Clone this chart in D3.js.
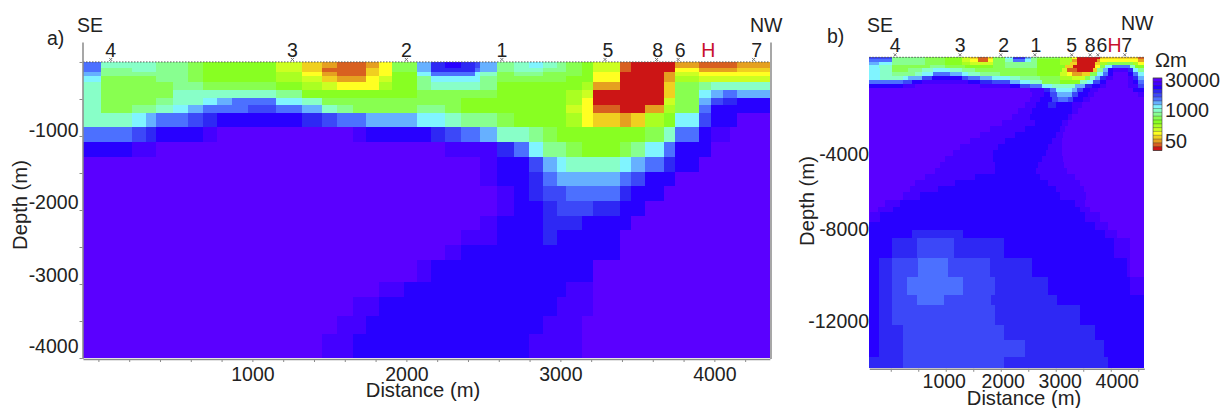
<!DOCTYPE html>
<html>
<head>
<meta charset="utf-8">
<script src="https://cdn.jsdelivr.net/npm/d3@7"></script>
<style>
  html, body { margin: 0; background: #fff; }
  svg { display: block; }
  text { font-family: "Liberation Sans", Arial, sans-serif; fill: #222; }
  .axis path, .axis line { stroke: #8a8a8a; }
</style>
</head>
<body>
<div id="vis"></div>
<script>
// resistivity classes, most resistive first (30000 ohm m down to under 50)
const levelColors = ["#5a00ff", "#4400ff", "#2800ff", "#2e28f4", "#3c48f8", "#4c70ff", "#66b0ff", "#80f4ff",
  "#88ffc8", "#88ff90", "#88ff50", "#88ff22", "#aaff22", "#ccff22", "#ffff22", "#f0d020", "#e5a020", "#d86020", "#cc1515"];
const legendLabels = ["30000", "1000", "50"];
const legendLevels = [0, 8, 16];

const wellNames = ["4", "3", "2", "1", "5", "8", "6", "H", "7"];
const wellDistance = [80, 1260, 2000, 2620, 3290, 3625, 3765, 3960, 4255];

const distanceTicksA = d3.range(0, 4400, 200);
const depthTicksA = d3.range(0, -4001, -500);
const distanceTicksB = d3.range(0, 4501, 500);
const depthTicksB = [-4000, -8000, -12000];

// bottom of each model layer (m)
const depthEdgesA = [0, -80, -135, -190, -270, -380, -485, -580, -690, -880, -1080, -1285, -1485, -1675, -1880,
  -2080, -2270, -2475, -2675, -2975, -3175, -3430, -3675, -4005];
// one list per layer, each entry is [distance where the run ends, class]
const layersA = [
  [[15,5],[377,8],[580,9],[677,10],[1151,11],[1320,13],[1450,15],[1547,16],[1735,17],[1820,16],[1904,14],[2067,10],[2162,6],[2249,3],[2353,2],[2443,3],[2476,4],[2586,6],[2697,9],[2794,8],[2885,7],[2976,8],[3034,9],[3138,10],[3210,11],[3385,13],[3457,17],[3742,18],[3898,16],[4145,17],[4360,16]],
  [[15,5],[216,9],[377,8],[580,9],[677,10],[1151,11],[1320,13],[1450,15],[1735,17],[1820,15],[1904,14],[2067,10],[2162,6],[2443,3],[2476,5],[2586,6],[2697,9],[2885,8],[3034,9],[3138,10],[3210,11],[3385,13],[3457,17],[3742,18],[3898,14],[4145,16],[4360,15]],
  [[15,6],[580,9],[677,10],[1151,11],[1320,12],[1450,14],[1547,16],[1735,17],[1820,15],[1904,14],[2067,11],[2162,7],[2249,5],[2443,5],[2476,7],[2586,8],[2697,10],[2885,9],[3138,10],[3210,11],[3385,14],[3670,18],[3742,16],[3898,13],[4360,14]],
  [[15,7],[377,10],[580,9],[677,10],[1151,11],[1320,12],[1450,13],[1547,15],[1735,16],[1820,14],[1904,13],[2067,11],[2162,9],[2476,7],[2586,9],[3034,10],[3210,11],[3385,14],[3670,18],[3742,16],[3898,12],[4360,13]],
  [[15,8],[482,10],[677,9],[1151,10],[1320,11],[1450,12],[1547,13],[1820,14],[1904,12],[2067,11],[2162,9],[2476,8],[2586,9],[3138,11],[3210,12],[3385,16],[3670,18],[3742,15],[3898,10],[3976,9],[4360,8]],
  [[15,8],[482,10],[1151,8],[1320,9],[1450,11],[2067,11],[2586,10],[3034,11],[3138,12],[3210,13],[3670,18],[3742,15],[3898,10],[3976,7],[4054,6],[4145,5],[4360,6]],
  [[15,8],[377,10],[482,9],[677,8],[768,7],[866,6],[1151,5],[1320,7],[1450,8],[2353,10],[3034,11],[3138,12],[3210,14],[3670,18],[3742,13],[3898,10],[3976,6],[4054,4],[4145,3],[4360,2]],
  [[15,8],[216,10],[377,9],[482,8],[580,7],[677,6],[969,5],[1151,4],[1320,5],[1450,6],[1547,8],[1651,9],[2067,10],[2249,9],[2353,10],[3034,11],[3138,13],[3210,14],[3385,17],[3547,18],[3670,16],[3742,12],[3898,10],[3976,5],[4360,2]],
  [[216,8],[307,7],[377,6],[580,5],[677,4],[768,3],[1320,2],[1450,3],[1547,4],[1735,5],[2067,6],[2249,7],[2353,8],[2586,9],[2697,10],[3034,11],[3138,12],[3210,14],[3385,15],[3457,16],[3547,15],[3670,12],[3742,11],[3898,7],[3976,4],[4145,2],[4360,0]],
  [[216,5],[307,4],[377,3],[677,2],[768,1],[1651,0],[1735,1],[2162,2],[2249,3],[2353,4],[2476,5],[2586,6],[2794,8],[2885,9],[2976,10],[3547,11],[3670,10],[3742,8],[3898,5],[3976,2],[4100,1],[4360,0]],
  [[216,2],[377,1],[2249,0],[2586,1],[2697,3],[2794,5],[2885,7],[3034,9],[3138,10],[3385,11],[3457,10],[3547,9],[3670,7],[3742,5],[3976,2],[4360,0]],
  [[2476,0],[2586,1],[2794,2],[2885,4],[2976,6],[3034,7],[3385,8],[3457,7],[3547,6],[3670,5],[3742,3],[3898,2],[4360,0]],
  [[2476,0],[2586,1],[2794,2],[2885,3],[2976,5],[3385,6],[3457,5],[3547,4],[3742,2],[4360,0]],
  [[2586,0],[2697,1],[2794,2],[2885,3],[3034,4],[3385,5],[3457,3],[3670,2],[4360,0]],
  [[2586,0],[2697,1],[2885,2],[2976,3],[3210,4],[3385,3],[3547,2],[4360,0]],
  [[2476,0],[2586,1],[2885,2],[3138,3],[3457,2],[4360,0]],
  [[2353,0],[2586,1],[2885,2],[2976,3],[3385,2],[4360,0]],
  [[2249,0],[2353,1],[3385,2],[4360,0]],
  [[2067,0],[2162,1],[3210,2],[4360,0]],
  [[1820,0],[1983,1],[3034,2],[3210,1],[4360,0]],
  [[1651,0],[1820,1],[2976,2],[3210,1],[4360,0]],
  [[1547,0],[1735,1],[2885,2],[3138,1],[4360,0]],
  [[1450,0],[1651,1],[2794,2],[3138,1],[4360,0]]
];

const depthEdgesB = [0, -100, -215, -355, -490, -675, -860, -1040, -1225, -1410, -1590, -1820, -2050, -2325, -2600,
  -2875, -3150, -3425, -3700, -3975, -4250, -4530, -4800, -5080, -5350, -5630, -5900, -6180, -6545,
  -6865, -7095, -7555, -7920, -8290, -9205, -10080, -10900, -11360, -12280, -12970, -13750, -14270];
const layersB = [
  [[20,4],[620,9],[990,10],[1300,11],[1440,13],[1590,15],[1770,17],[1860,15],[2080,10],[2220,7],[2440,3],[2550,6],[2660,9],[3080,10],[3300,12],[3390,14],[3800,18],[4500,15],[4610,17]],
  [[20,5],[620,9],[990,10],[1300,11],[1440,13],[1590,14],[1770,17],[1860,14],[2080,10],[2220,8],[2440,5],[2550,7],[2660,9],[3080,11],[3300,12],[3390,16],[3750,18],[3800,16],[4500,14],[4610,16]],
  [[-210,6],[20,7],[620,9],[990,10],[1300,11],[1440,12],[1860,13],[2080,10],[2660,9],[3080,11],[3260,12],[3390,15],[3710,18],[3800,15],[3930,12],[4400,10],[4500,12],[4610,14]],
  [[-210,7],[20,8],[710,10],[990,9],[1350,10],[1860,11],[2080,10],[2660,9],[3170,11],[3310,15],[3710,18],[3800,14],[3900,10],[4020,7],[4350,5],[4440,8],[4610,11]],
  [[-190,7],[20,8],[320,10],[570,9],[770,8],[1080,7],[1300,8],[1530,9],[2660,10],[3110,11],[3210,13],[3390,17],[3680,18],[3750,15],[3860,9],[3950,6],[4040,2],[4310,1],[4400,3],[4500,7],[4610,9]],
  [[-190,7],[20,8],[440,9],[570,8],[770,7],[1080,5],[1300,6],[1400,7],[1620,8],[1990,9],[2660,10],[3080,11],[3200,13],[3300,14],[3480,16],[3620,15],[3750,10],[3860,7],[3950,5],[4040,2],[4310,0],[4400,2],[4500,5],[4610,7]],
  [[-190,7],[220,8],[320,7],[570,6],[750,4],[1300,2],[1400,4],[1620,5],[1840,6],[2170,7],[2350,8],[2710,9],[3080,10],[3300,12],[3530,13],[3620,10],[3710,8],[3800,6],[3910,3],[4040,1],[4310,0],[4400,1],[4500,3],[4610,6]],
  [[220,5],[390,4],[570,2],[1400,1],[1620,2],[1840,3],[2170,4],[2350,6],[2530,7],[2750,8],[3080,10],[3440,11],[3570,8],[3680,7],[3800,4],[3910,2],[4310,0],[4400,1],[4500,2],[4610,5]],
  [[220,2],[440,1],[1620,0],[2170,1],[2350,2],[2530,4],[2750,5],[2930,7],[3350,8],[3530,6],[3660,3],[3800,2],[3910,1],[4310,0],[4500,1],[4610,4]],
  [[2530,0],[2790,1],[2900,3],[3010,5],[3300,7],[3390,6],[3500,4],[3620,2],[3770,1],[4400,0],[4610,2]],
  [[2570,0],[2790,1],[2900,2],[3020,4],[3300,6],[3400,4],[3590,2],[3700,1],[4500,0],[4610,1]],
  [[2530,0],[2710,1],[2930,2],[3040,4],[3220,5],[3310,4],[3500,2],[3620,1],[4610,0]],
  [[2440,0],[2640,1],[2860,2],[3010,3],[3300,2],[3480,1],[4610,0]],
  [[2310,0],[2570,1],[3300,2],[3400,1],[4610,0]],
  [[2200,0],[2530,1],[3220,2],[3300,1],[4610,0]],
  [[2020,0],[2620,1],[3110,2],[3220,1],[4610,0]],
  [[1800,0],[2440,1],[3080,2],[3170,1],[4610,0]],
  [[1620,0],[2260,1],[3010,2],[3130,1],[4610,0]],
  [[1440,0],[2080,1],[2930,2],[3110,1],[4610,0]],
  [[1260,0],[1950,1],[2860,2],[3110,1],[4610,0]],
  [[1130,0],[1860,1],[2820,2],[3110,1],[4610,0]],
  [[990,0],[1860,1],[2750,2],[3130,1],[4610,0]],
  [[900,0],[1900,1],[2680,2],[3150,1],[4610,0]],
  [[810,0],[1900,1],[2640,2],[3200,1],[4610,0]],
  [[620,0],[1530,1],[2710,2],[3350,1],[4610,0]],
  [[440,0],[1170,1],[2860,2],[3440,1],[4610,0]],
  [[350,0],[860,1],[3010,2],[3510,1],[4610,0]],
  [[220,0],[530,1],[3080,2],[3550,1],[4610,0]],
  [[-100,0],[170,1],[3350,2],[3530,1],[4610,0]],
  [[-230,0],[40,1],[3440,2],[3620,1],[4610,0]],
  [[-380,0],[-200,1],[3530,2],[3800,1],[4610,0]],
  [[3710,2],[3950,1],[4610,0]],
  [[390,2],[1310,3],[3900,2],[4110,1],[4610,0]],
  [[20,2],[480,3],[1150,4],[2060,3],[4060,2],[4350,1],[4610,0]],
  [[-210,2],[20,3],[500,4],[1040,5],[1800,4],[2570,3],[4300,2],[4350,1],[4610,0]],
  [[-210,2],[20,3],[300,4],[1310,5],[1900,4],[2860,3],[4350,2],[4610,1]],
  [[-210,2],[20,3],[480,4],[970,5],[1820,4],[3020,3],[4610,2]],
  [[-210,2],[20,3],[1900,4],[3440,3],[4610,2]],
  [[-210,2],[220,3],[2060,4],[3710,3],[4610,2]],
  [[-210,2],[220,3],[2440,4],[3880,3],[4610,2]],
  [[220,3],[2060,4],[3950,3],[4610,2]]
];

const FONT = 19.5;
const TITLE_FONT = 20.2;
const svg = d3.select("#vis").append("svg").attr("width", 1221).attr("height", 408);

// scale: level -> colour
const color = d3.scaleOrdinal().domain(d3.range(levelColors.length)).range(levelColors);

function label(str, x, y, opts) {
  opts = opts || {};
  return svg.append("text")
    .attr("transform", "translate(" + x + "," + y + ")" + (opts.rotate ? " rotate(" + opts.rotate + ")" : ""))
    .attr("text-anchor", opts.anchor || "start")
    .style("font-size", (opts.size || FONT) + "px")
    .style("fill", opts.fill || "#222")
    .text(str);
}

function drawCells(x, y, edges, layers) {
  const cells = [];
  layers.forEach((runs, i) => {
    let from = x.domain()[0];
    runs.forEach(r => {
      cells.push({ x0: from, x1: r[0], top: edges[i], bottom: edges[i + 1], level: r[1] });
      from = r[0];
    });
  });
  svg.append("g")
    .style("filter", "blur(0.5px)")
    .attr("shape-rendering", "crispEdges")
    .selectAll("rect")
    .data(cells)
    .join("rect")
    .attr("x", d => x(d.x0))
    .attr("y", d => y(d.top))
    .attr("width", d => x(d.x1) - x(d.x0))
    .attr("height", d => y(d.bottom) - y(d.top))
    .attr("fill", d => color(d.level));
}

function drawSurface(x, y, labelBaseline, nudges) {
  // dotted ground line and the well marks on it
  svg.append("line")
    .attr("x1", x.range()[0]).attr("x2", x.range()[1])
    .attr("y1", y(0)).attr("y2", y(0))
    .attr("stroke", "#555").attr("stroke-width", 1).attr("stroke-dasharray", "1.5,1.5");
  wellNames.forEach((name, i) => {
    const px = x(wellDistance[i]);
    if (name !== "H") {
      svg.append("path")
        .attr("d", d3.line()([[px - 1.5, y(0) - 4], [px + 1.5, y(0) - 1]]) + d3.line()([[px + 1.5, y(0) - 4], [px - 1.5, y(0) - 1]]))
        .attr("stroke", "#777").attr("fill", "none");
    }
    label(name, px + nudges[i], labelBaseline, { anchor: "middle", fill: name === "H" ? "#c8102e" : "#222" });
  });
}

// panel a
const xA = d3.scaleLinear().domain([-100, 4360]).range([83, 769.8]);
const yA = d3.scaleLinear().domain([270, -4005]).range([42, 358.4]);
drawCells(xA, yA, depthEdgesA, layersA);
drawSurface(xA, yA, 57, [0, 0, 0, 0, 3, 1, 2, 0, 3]);

const nudgeDepthA = { "-1000": -6, "-2000": -8, "-3000": -9, "-4000": -12 };
const axisLeftA = svg.append("g").attr("class", "axis").attr("transform", "translate(82.5,0)")
  .call(d3.axisLeft(yA).tickValues(depthTicksA).tickSize(3).tickSizeOuter(0)
    .tickFormat(d => (d !== 0 && d % 1000 === 0) ? d : ""));
axisLeftA.select(".domain").attr("stroke-width", 1.5);
axisLeftA.selectAll("text").style("font-size", FONT + "px").attr("x", -4)
  .attr("y", d => nudgeDepthA[d] || 0).style("fill", "#222");
const axisRightA = svg.append("g").attr("class", "axis").attr("transform", "translate(770.5,0)")
  .call(d3.axisRight(yA).tickValues([]).tickSizeOuter(0));
axisRightA.select(".domain").attr("stroke-width", 1.5);
const axisBottomA = svg.append("g").attr("class", "axis").attr("transform", "translate(0,359)")
  .call(d3.axisBottom(xA).tickValues(distanceTicksA).tickSize(3).tickSizeOuter(0)
    .tickFormat(d => (d !== 0 && d % 1000 === 0) ? d : ""));
axisBottomA.select(".domain").attr("stroke-width", 1.5);
axisBottomA.selectAll("text").style("font-size", FONT + "px").attr("y", 8).style("fill", "#222");

label("a)", 47, 45);
label("SE", 77, 32);
label("NW", 750, 32);
label("Depth (m)", 27, 205, { rotate: -90, anchor: "middle", size: TITLE_FONT });
label("Distance (m)", 423, 397, { anchor: "middle", size: TITLE_FONT });

// panel b
const xB = d3.scaleLinear().domain([-390, 4610]).range([869.3, 1144.3]);
const yB = d3.scaleLinear().domain([0, -14270]).range([57.3, 368.3]);
drawCells(xB, yB, depthEdgesB, layersB);
drawSurface(xB, yB, 52, [0, 0, 3, 1, 0, 0, 4, 6, 2]);

const nudgeDepthB = { "-4000": 10, "-8000": -2, "-12000": 2 };
const axisLeftB = svg.append("g").attr("class", "axis").attr("transform", "translate(869,0)")
  .call(d3.axisLeft(yB).tickValues(depthTicksB).tickSize(0).tickFormat(d => d));
axisLeftB.select(".domain").remove();
axisLeftB.selectAll("text").style("font-size", FONT + "px").attr("x", 0)
  .attr("y", d => nudgeDepthB[d]).style("fill", "#222");
const nudgeDistanceB = { 1000: -2, 2000: 2, 3000: 4, 4000: 6 };
const axisBottomB = svg.append("g").attr("class", "axis").attr("transform", "translate(0,368.8)")
  .call(d3.axisBottom(xB).tickValues(distanceTicksB).tickSize(3).tickSizeOuter(0)
    .tickFormat(d => (d !== 0 && d % 1000 === 0) ? d : ""));
axisBottomB.select(".domain").attr("stroke-width", 1.5);
axisBottomB.selectAll("text").style("font-size", FONT + "px").attr("y", 5)
  .attr("x", d => nudgeDistanceB[d] || 0).style("fill", "#222");

label("b)", 827, 43);
label("SE", 867, 32);
label("NW", 1121, 30);
label("Depth (m)", 814, 201, { rotate: -90, anchor: "middle", size: TITLE_FONT });
label("Distance (m)", 1024, 405, { anchor: "middle", size: TITLE_FONT });

// colour legend
const legendY = d3.scaleBand().domain(d3.range(levelColors.length)).range([78, 150.5]);
svg.append("g").selectAll("rect").data(levelColors).join("rect")
  .attr("x", 1153).attr("width", 9)
  .attr("y", (d, i) => legendY(i)).attr("height", legendY.bandwidth() + 0.3)
  .attr("fill", d => d);
svg.append("g").selectAll("line").data(d3.range(levelColors.length + 1)).join("line")
  .attr("x1", 1153).attr("x2", 1162)
  .attr("y1", d => 78 + d * legendY.step()).attr("y2", d => 78 + d * legendY.step())
  .attr("stroke", "#333").attr("stroke-width", 0.4);
svg.append("rect").attr("x", 1153).attr("y", 78).attr("width", 9).attr("height", 72.5)
  .attr("fill", "none").attr("stroke", "#444").attr("stroke-width", 0.6);
label("\u03A9m", 1155, 67, { size: TITLE_FONT });
legendLabels.forEach((t, i) => {
  label(t, 1165, legendY(legendLevels[i]) + legendY.bandwidth() / 2 + 7, { size: 19.8 });
});
</script>
</body>
</html>
